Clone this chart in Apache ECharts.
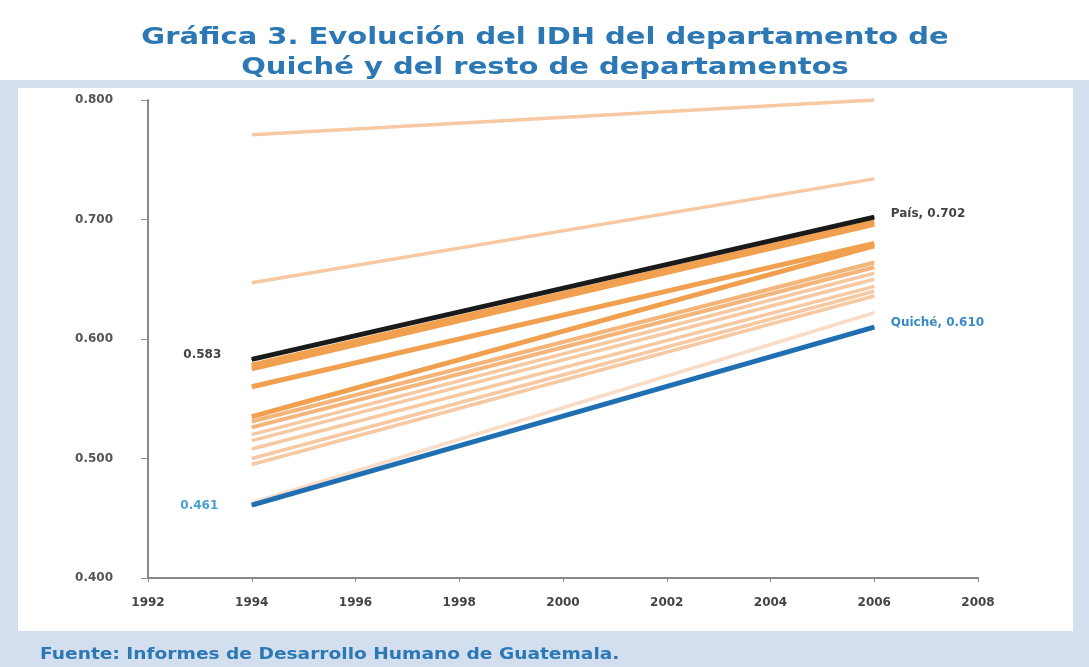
<!DOCTYPE html>
<html>
<head>
<meta charset="utf-8">
<script src="https://cdn.jsdelivr.net/npm/echarts@6/dist/echarts.min.js"></script>
<style>
  html, body { margin: 0; padding: 0; background: #fff; }
  #chart { width: 1089px; height: 667px; }
</style>
</head>
<body>
<div id="chart"></div>
<script>
// años y valores
const years = [1994, 2006];
const yTicks = [0.4, 0.5, 0.6, 0.7, 0.8];
const paisIDH = [0.583, 0.702];
const quicheIDH = [0.461, 0.610];
// resto de departamentos (1994 -> 2006)
const deptIDH1994 = [0.771, 0.647, 0.578, 0.575, 0.560, 0.535, 0.531, 0.526, 0.520, 0.515, 0.508, 0.500, 0.495, 0.463];
const deptIDH2006 = [0.800, 0.734, 0.698, 0.696, 0.680, 0.678, 0.664, 0.660, 0.655, 0.650, 0.644, 0.640, 0.636, 0.622];
// tono de cada línea (solo estilo)
const deptTone = ['light', 'light', 'dark', 'dark', 'dark', 'dark', 'mid', 'mid', 'light', 'light', 'light', 'light', 'light', 'pale'];

const toneStyle = {
  dark: { color: '#f0a04e', width: 5 },
  mid: { color: '#f4b57a', width: 4 },
  light: { color: '#f7c9a2', width: 3.5 },
  pale: { color: '#f9dcc8', width: 3.5 }
};

const chart = echarts.init(document.getElementById('chart'));

const deptSeries = deptIDH1994.map((v, i) => ({
  type: 'line',
  name: 'dep' + i,
  data: [[years[0], v], [years[1], deptIDH2006[i]]],
  showSymbol: false,
  silent: true,
  lineStyle: toneStyle[deptTone[i]],
  z: 2
}));

const labelFont = { fontFamily: '"DejaVu Sans", Verdana, sans-serif', fontWeight: 'bold', fontSize: 12 };
const titleFont = 'bold 23px "DejaVu Sans", Verdana, sans-serif';

const option = {
  backgroundColor: '#ffffff',
  animation: false,
  graphic: [
    { type: 'rect', z: -10, shape: { x: 0, y: 80, width: 1089, height: 587 }, style: { fill: '#d3dfee' } },
    { type: 'rect', z: -9, shape: { x: 18, y: 88, width: 1055, height: 543 }, style: { fill: '#ffffff' } },
    { type: 'text', x: 545, y: 38, scaleX: 1.26, style: { text: 'Gráfica 3. Evolución del IDH del departamento de', fill: '#2b78b4', font: titleFont, align: 'center', verticalAlign: 'middle' } },
    { type: 'text', x: 545, y: 68, scaleX: 1.26, style: { text: 'Quiché y del resto de departamentos', fill: '#2b78b4', font: titleFont, align: 'center', verticalAlign: 'middle' } },
    { type: 'text', x: 40, y: 655, scaleX: 1.24, style: { text: 'Fuente: Informes de Desarrollo Humano de Guatemala.', fill: '#2b78b4', font: 'bold 15px "DejaVu Sans", Verdana, sans-serif', align: 'left', verticalAlign: 'middle' } }
  ],
  grid: { left: 148, right: 111, top: 100, bottom: 89 },
  xAxis: {
    type: 'value',
    min: 1992,
    max: 2008,
    interval: 2,
    axisLine: { lineStyle: { color: '#888', width: 2 } },
    axisTick: { length: 4, lineStyle: { color: '#888' } },
    splitLine: { show: false },
    axisLabel: Object.assign({ color: '#444', margin: 19, formatter: v => String(v) }, labelFont)
  },
  yAxis: {
    type: 'value',
    min: yTicks[0],
    max: yTicks[yTicks.length - 1],
    interval: 0.1,
    axisLine: { show: true, lineStyle: { color: '#888', width: 2 } },
    axisTick: { show: true, length: 7, lineStyle: { color: '#888' } },
    splitLine: { show: false },
    axisLabel: Object.assign({ color: '#555', margin: 35, formatter: v => v.toFixed(3) }, labelFont)
  },
  series: deptSeries.concat([
    {
      type: 'line',
      name: 'País',
      data: [
        { value: [years[0], paisIDH[0]], label: { show: true, position: 'left', distance: 30, offset: [0, -4], formatter: paisIDH[0].toFixed(3), color: '#444' } },
        { value: [years[1], paisIDH[1]], label: { show: true, position: 'right', distance: 16, offset: [0, -3], formatter: 'País, ' + paisIDH[1].toFixed(3), color: '#444' } }
      ],
      symbol: 'circle',
      symbolSize: 1,
      itemStyle: { color: '#1a1a1a' },
      label: labelFont,
      lineStyle: { color: '#1a1a1a', width: 5 },
      z: 4
    },
    {
      type: 'line',
      name: 'Quiché',
      data: [
        { value: [years[0], quicheIDH[0]], label: { show: true, position: 'left', distance: 33, offset: [0, 1], formatter: quicheIDH[0].toFixed(3), color: '#4a9fd6' } },
        { value: [years[1], quicheIDH[1]], label: { show: true, position: 'right', distance: 16, offset: [0, -4], formatter: 'Quiché, ' + quicheIDH[1].toFixed(3), color: '#3a8ac4' } }
      ],
      symbol: 'circle',
      symbolSize: 1,
      itemStyle: { color: '#1f6fb2' },
      label: labelFont,
      lineStyle: { color: '#1f6fb2', width: 5 },
      z: 4
    }
  ])
};

chart.setOption(option);
</script>
</body>
</html>
